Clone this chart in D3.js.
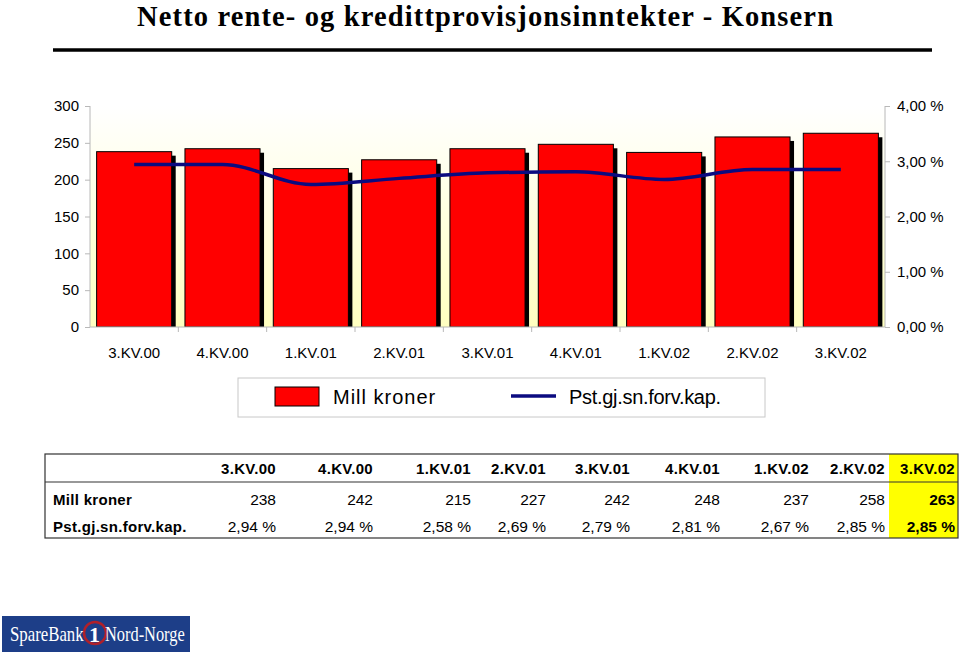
<!DOCTYPE html>
<html><head><meta charset="utf-8">
<script src="https://cdn.jsdelivr.net/npm/d3@7"></script>
<style>body{margin:0;background:#fff}svg{display:block}</style>
</head><body>
<svg id="c" width="960" height="657"></svg>
<script>
const quarters = ["3.KV.00","4.KV.00","1.KV.01","2.KV.01","3.KV.01","4.KV.01","1.KV.02","2.KV.02","3.KV.02"];
const millKroner = [238,242,215,227,242,248,237,258,263];
const pstKap = [2.94,2.94,2.58,2.69,2.79,2.81,2.67,2.85,2.85];
const leftTicks = [0,50,100,150,200,250,300];
const rightTicks = [0,1,2,3,4];
const seriesNames = ["Mill kroner","Pst.gj.sn.forv.kap."];
const titleText = "Netto rente- og kredittprovisjonsinntekter - Konsern";

const svg = d3.select("#c");
const fmtPct = v => d3.format(".2f")(v).replace(".", ",") + " %";
const sans = "Liberation Sans, Arial, sans-serif";
const serif = "Liberation Serif, Times New Roman, serif";

// Title
svg.append("text").attr("x",137).attr("y",26)
  .attr("font-family",serif).attr("font-weight","bold")
  .attr("font-size",28.5).attr("fill","#000")
  .attr("textLength",696).attr("lengthAdjust","spacing").text(titleText);
svg.append("line").attr("x1",53).attr("x2",932).attr("y1",50).attr("y2",50)
  .attr("stroke","#000").attr("stroke-width",3.5);

// Plot
const L=90, R=885, T=106, B=327;
const x = d3.scaleBand().domain(quarters).range([L,R]).paddingInner(0.15).paddingOuter(0.075);
const yL = d3.scaleLinear().domain([0,300]).range([B,T]);
const yR = d3.scaleLinear().domain([0,4]).range([B,T]);

const defs = svg.append("defs");
const grad = defs.append("linearGradient").attr("id","bg").attr("x1",0).attr("x2",0).attr("y1",0).attr("y2",1);
grad.append("stop").attr("offset","0%").attr("stop-color","#ffffff");
grad.append("stop").attr("offset","100%").attr("stop-color","#ffffc0");
defs.append("clipPath").attr("id","pc").append("rect").attr("x",L).attr("y",0).attr("width",R-L).attr("height",B);

svg.append("rect").attr("x",L).attr("y",T).attr("width",R-L).attr("height",B-T).attr("fill","url(#bg)");

// bars with shadows
const gb = svg.append("g").attr("clip-path","url(#pc)");
gb.selectAll("rect.sh").data(quarters).join("rect").attr("class","sh")
  .attr("x",d=>x(d)+4).attr("y",(d,i)=>yL(millKroner[i])+4)
  .attr("width",x.bandwidth()).attr("height",(d,i)=>B-yL(millKroner[i]))
  .attr("fill","#000");
gb.selectAll("rect.bar").data(quarters).join("rect").attr("class","bar")
  .attr("x",d=>x(d)).attr("y",(d,i)=>yL(millKroner[i]))
  .attr("width",x.bandwidth()).attr("height",(d,i)=>B-yL(millKroner[i]))
  .attr("fill","#ff0000").attr("stroke","#000").attr("stroke-width",1);

// line
const line = d3.line().x((d,i)=>x(quarters[i])+x.bandwidth()/2).y(d=>yR(d)).curve(d3.curveMonotoneX);
svg.append("path").datum(pstKap).attr("d",line).attr("fill","none")
  .attr("stroke","#0b0b80").attr("stroke-width",3.5);

// axes
const axisColor = "#b8b8b8";
const gl = svg.append("g").attr("transform",`translate(${L},0)`)
  .call(d3.axisLeft(yL).tickValues(leftTicks).tickSize(5).tickPadding(6));
const gr = svg.append("g").attr("transform",`translate(${R},0)`)
  .call(d3.axisRight(yR).tickValues(rightTicks).tickSize(5).tickPadding(7).tickFormat(fmtPct));
const gx = svg.append("g").attr("transform",`translate(0,${B})`)
  .call(d3.axisBottom(x).tickSize(0).tickPadding(20));
[gl,gr,gx].forEach(g=>{
  g.selectAll("path.domain").attr("stroke",axisColor);
  g.selectAll("line").attr("stroke",axisColor);
  g.selectAll("text").attr("font-family",sans).attr("font-size",15).attr("fill","#000");
});
gl.selectAll("path.domain").attr("d",`M0,${B}V${T}`);
gr.selectAll("path.domain").attr("d",`M0,${B}V${T}`);
gx.selectAll("path.domain").attr("d",`M${L},0H${R}`);
gx.append("g").selectAll("line").data(quarters.slice(1)).join("line")
  .attr("x1",d=>x(d)-x.step()*x.paddingInner()/2).attr("x2",d=>x(d)-x.step()*x.paddingInner()/2)
  .attr("y1",0).attr("y2",5).attr("stroke",axisColor);

// legend
const lg = svg.append("g");
lg.append("rect").attr("x",238).attr("y",378).attr("width",527).attr("height",39)
  .attr("fill","#fff").attr("stroke","#c8c8c8");
lg.append("rect").attr("x",275).attr("y",387).attr("width",44).attr("height",19)
  .attr("fill","#ff0000").attr("stroke","#000");
lg.append("text").attr("x",333).attr("y",404).attr("font-family",sans).attr("font-size",20)
  .attr("letter-spacing",1).text(seriesNames[0]);
lg.append("line").attr("x1",511).attr("x2",556).attr("y1",396).attr("y2",396)
  .attr("stroke","#0b0b80").attr("stroke-width",3.5);
lg.append("text").attr("x",569).attr("y",404).attr("font-family",sans).attr("font-size",20)
  .attr("letter-spacing",-0.3).text(seriesNames[1]);

// data table
const tx = d3.scaleOrdinal().domain(quarters).range([276,373,471,546,630,720,809,885,955]);
const tb = svg.append("g");
const tTop=454, tBot=538, tLeft=45, tRight=958;
const last = quarters[quarters.length-1];
tb.append("rect").attr("x",889).attr("y",tTop).attr("width",tRight-889).attr("height",tBot-tTop).attr("fill","#ffff00");
tb.append("rect").attr("x",tLeft).attr("y",tTop).attr("width",tRight-tLeft).attr("height",tBot-tTop)
  .attr("fill","none").attr("stroke","#333").attr("stroke-width",1.2);
tb.append("line").attr("x1",tLeft).attr("x2",tRight).attr("y1",482).attr("y2",482).attr("stroke","#333").attr("stroke-width",1.2);
tb.selectAll("text.h").data(quarters).join("text").attr("class","h")
  .attr("x",d=>tx(d)).attr("y",474).attr("text-anchor","end")
  .attr("font-family",sans).attr("font-weight","bold").attr("font-size",15).attr("letter-spacing",0.3)
  .text(d=>d);
tb.selectAll("text.r1").data(quarters).join("text").attr("class","r1")
  .attr("x",d=>tx(d)).attr("y",505).attr("text-anchor","end")
  .attr("font-family",sans).attr("font-size",15.5).attr("font-weight",d=>d===last?"bold":"normal")
  .text((d,i)=>millKroner[i]);
tb.selectAll("text.r2").data(quarters).join("text").attr("class","r2")
  .attr("x",d=>tx(d)).attr("y",532).attr("text-anchor","end")
  .attr("font-family",sans).attr("font-size",15.5).attr("font-weight",d=>d===last?"bold":"normal")
  .text((d,i)=>fmtPct(pstKap[i]));
tb.selectAll("text.lab").data(seriesNames).join("text").attr("class","lab")
  .attr("x",53).attr("y",(d,i)=>[505,532][i])
  .attr("font-family",sans).attr("font-weight","bold").attr("font-size",15).attr("letter-spacing",0.3)
  .text(d=>d);

// logo
const lo = svg.append("g");
lo.append("rect").attr("x",2).attr("y",616).attr("width",188).attr("height",36).attr("fill","#1d3e88");
lo.append("circle").attr("cx",95).attr("cy",633).attr("r",11).attr("fill","none").attr("stroke","#b0202a").attr("stroke-width",2.5);
lo.append("text").attr("transform","translate(10,641) scale(0.8,1)")
  .attr("font-family",serif).attr("font-size",21).attr("fill","#fff").text("SpareBank");
lo.append("text").attr("x",89).attr("y",642)
  .attr("font-family",serif).attr("font-weight","bold").attr("font-size",22).attr("fill","#fff").text("1");
lo.append("text").attr("transform","translate(105,641) scale(0.78,1)")
  .attr("font-family",serif).attr("font-size",21).attr("fill","#fff").text("Nord-Norge");
</script>
</body></html>
